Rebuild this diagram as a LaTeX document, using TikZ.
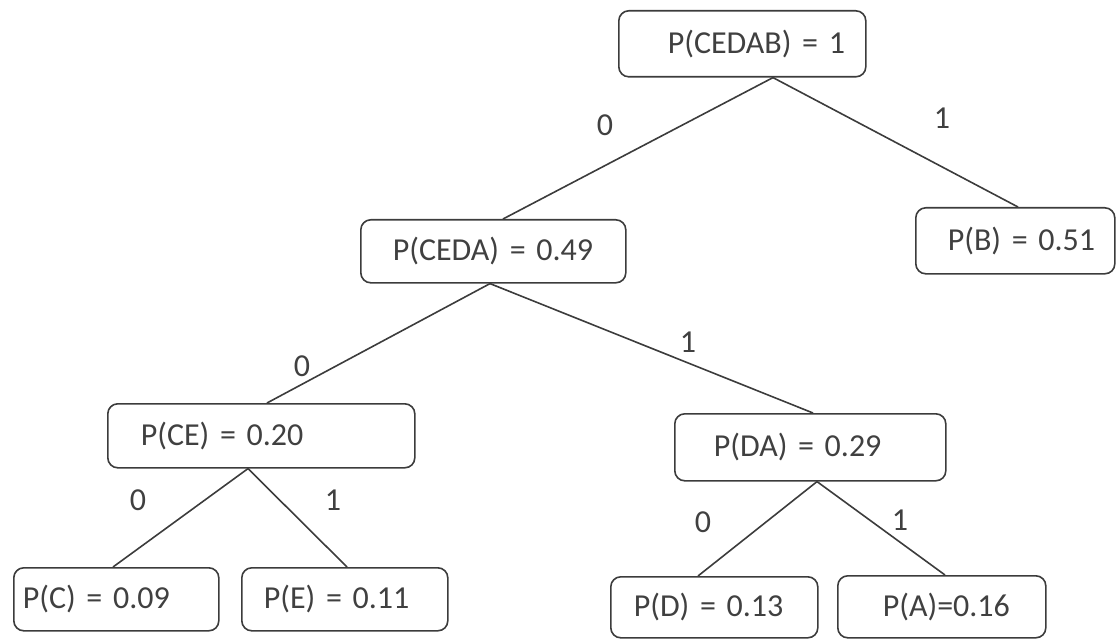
\documentclass[tikz,border=0pt]{standalone}
\usepackage{fontspec}
\setmainfont{Carlito}
\usepackage{tikz}

\definecolor{boxline}{HTML}{3C3C3C}
\definecolor{boxtext}{HTML}{404040}

\begin{document}
\begin{tikzpicture}[
  x=1pt, y=-1pt,
  prob/.style n args={4}{
    draw=boxline, line width=1.6pt, rounded corners=10pt,
    anchor=north west, inner xsep=0pt, inner ysep=0pt,
    text width=#1, minimum height=#2, align=left,
    text=boxtext, font=\fontsize{32}{38}\selectfont,
    execute at begin node={\hspace*{#3}},
  },
  bit/.style={text=boxtext, font=\fontsize{32}{38}\selectfont},
  branch/.style={draw=boxline, line width=1.6pt},
  ]
  \useasboundingbox (0,0) rectangle (1116,639);
  % boxes
  \node[prob={247pt}{66pt}{49pt}{}] (root) at (618,10) {P(CEDAB) = 1};
  \node[prob={265pt}{63pt}{32pt}{}] (ceda) at (360,219) {P(CEDA) = 0.49};
  \node[prob={199pt}{66pt}{32pt}{}] (b) at (915,207) {P(B) = 0.51};
  \node[prob={307pt}{64pt}{33pt}{}] (ce) at (107,403) {P(CE) = 0.20};
  \node[prob={271pt}{67pt}{39pt}{}] (da) at (674,413) {P(DA) = 0.29};
  \node[prob={205pt}{63pt}{9pt}{}] (c) at (13,567) {P(C) = 0.09};
  \node[prob={206pt}{63pt}{22pt}{}] (e) at (241,567) {P(E) = 0.11};
  \node[prob={207pt}{61pt}{23pt}{}] (d) at (610,576) {P(D) = 0.13};
  \node[prob={208pt}{62pt}{45pt}{}] (a) at (837,575) {P(A)=0.16};
  % branches
  \draw[branch] ([xshift=155pt]root.south west) -- ([xshift=143pt]ceda.north west);
  \draw[branch] ([xshift=155pt]root.south west) -- ([xshift=103pt]b.north west);
  \draw[branch] ([xshift=130pt]ceda.south west) -- ([xshift=160pt]ce.north west);
  \draw[branch] ([xshift=130pt]ceda.south west) -- ([xshift=139pt]da.north west);
  \draw[branch] ([xshift=141pt]ce.south west) -- ([xshift=100pt]c.north west);
  \draw[branch] ([xshift=141pt]ce.south west) -- ([xshift=106pt]e.north west);
  \draw[branch] ([xshift=143pt]da.south west) -- ([xshift=88pt]d.north west);
  \draw[branch] ([xshift=143pt]da.south west) -- ([xshift=108pt]a.north west);
  % 0/1 labels
  \node[bit] (b1) at (605,125) {0};
  \node[bit] (b2) at (942,118) {1};
  \node[bit] (b3) at (302,366) {0};
  \node[bit] (b4) at (688,342) {1};
  \node[bit] (b5) at (138,500) {0};
  \node[bit] (b6) at (333,500) {1};
  \node[bit] (b7) at (703,522) {0};
  \node[bit] (b8) at (900,520) {1};
\end{tikzpicture}
\end{document}
